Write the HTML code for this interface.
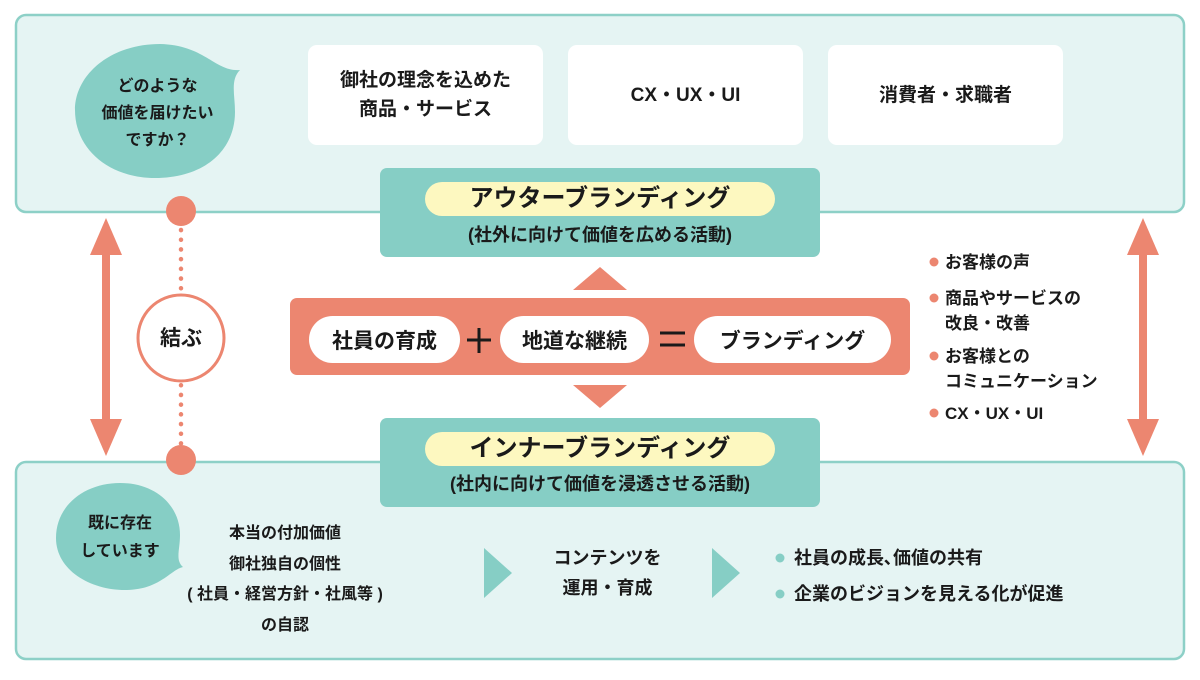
<!DOCTYPE html>
<html><head><meta charset="utf-8">
<style>
body{margin:0;width:1200px;height:680px;background:#fff;overflow:hidden;position:relative;font-family:"Liberation Sans","Noto Sans CJK JP",sans-serif;font-weight:bold;color:#1a1a1a}
.a{position:absolute;white-space:nowrap}
.c{text-align:center}
.wb{position:absolute;background:#fff;border-radius:9px;display:flex;align-items:center;justify-content:center;text-align:center;font-size:19px;line-height:29px}
.pill{position:absolute;background:#fff;border-radius:24px;display:flex;align-items:center;justify-content:center;font-size:21px}
</style></head><body>
<svg class="a" style="left:0;top:0" width="1200" height="680">
<rect x="16" y="15" width="1168" height="197" rx="10" fill="#e5f4f3" stroke="#8dd0c7" stroke-width="2.5"/>
<rect x="16" y="462" width="1168" height="197" rx="10" fill="#e5f4f3" stroke="#8dd0c7" stroke-width="2.5"/>
<path d="M240,70 C215,72 205,45 160,44 C110,44 75,75 75,110 C75,150 110,178 155,178 C205,178 235,150 235,112 C235,95 230,80 240,70Z" fill="#86cec5"/>
<path d="M183,567 C170,570 160,590 125,590 C90,590 56,570 56,538 C56,505 85,483 120,483 C155,483 180,505 180,535 C180,550 175,560 183,567Z" fill="#86cec5"/>
<line x1="106" y1="245" x2="106" y2="430" stroke="#ec8670" stroke-width="8"/>
<polygon points="106,218 90,255 122,255" fill="#ec8670"/>
<polygon points="106,456 90,419 122,419" fill="#ec8670"/>
<line x1="1143" y1="245" x2="1143" y2="430" stroke="#ec8670" stroke-width="8"/>
<polygon points="1143,218 1127,255 1159,255" fill="#ec8670"/>
<polygon points="1143,456 1127,419 1159,419" fill="#ec8670"/>
<line x1="181" y1="230" x2="181" y2="445" stroke="#ec8670" stroke-width="4.5" stroke-dasharray="0.1 9.6" stroke-linecap="round"/>
<circle cx="181" cy="211" r="15" fill="#ec8670"/>
<circle cx="181" cy="460" r="15" fill="#ec8670"/>
<circle cx="181" cy="338" r="43" fill="#fff" stroke="#ec8670" stroke-width="3"/>
<rect x="380" y="168" width="440" height="89" rx="7" fill="#86cec5"/>
<rect x="425" y="182" width="350" height="34" rx="17" fill="#fdf8c0"/>
<rect x="380" y="418" width="440" height="89" rx="7" fill="#86cec5"/>
<rect x="425" y="432" width="350" height="34" rx="17" fill="#fdf8c0"/>
<polygon points="600,267 573,290 627,290" fill="#ec8670"/>
<polygon points="600,408 573,385 627,385" fill="#ec8670"/>
<rect x="290" y="298" width="620" height="77" rx="7" fill="#ec8670"/>
<polygon points="484,548 512,573 484,598" fill="#86cec5"/>
<polygon points="712,548 740,573 712,598" fill="#86cec5"/>
<g fill="#ec8670"><circle cx="934" cy="262" r="4.5"/><circle cx="934" cy="298" r="4.5"/><circle cx="934" cy="356" r="4.5"/><circle cx="934" cy="413" r="4.5"/></g>
<g fill="#86cec5"><circle cx="780" cy="558" r="4.5"/><circle cx="780" cy="594" r="4.5"/></g>
<line x1="479" y1="328" x2="479" y2="353" stroke="#1a1a1a" stroke-width="3"/>
<line x1="467" y1="340" x2="491" y2="340" stroke="#1a1a1a" stroke-width="3"/>
<line x1="660" y1="333" x2="685" y2="333" stroke="#1a1a1a" stroke-width="3"/>
<line x1="660" y1="345" x2="685" y2="345" stroke="#1a1a1a" stroke-width="3"/>
</svg>

<div class="a c" style="left:80px;top:73px;width:155px;font-size:16px;line-height:27px">どのような<br>価値を届けたい<br>ですか？</div>
<div class="a c" style="left:60px;top:510px;width:120px;font-size:16px;line-height:28px">既に存在<br>しています</div>
<div class="a c" style="left:140px;top:322px;width:82px;font-size:21px">結ぶ</div>

<div class="wb" style="left:308px;top:45px;width:235px;height:100px">御社の理念を込めた<br>商品・サービス</div>
<div class="wb" style="left:568px;top:45px;width:235px;height:100px">CX・UX・UI</div>
<div class="wb" style="left:828px;top:45px;width:235px;height:100px">消費者・求職者</div>

<div class="a c" style="left:380px;top:183px;width:440px;font-size:24px;line-height:32px">アウターブランディング</div>
<div class="a c" style="left:380px;top:222px;width:440px;font-size:18px;line-height:26px">(社外に向けて価値を広める活動)</div>
<div class="a c" style="left:380px;top:433px;width:440px;font-size:24px;line-height:32px">インナーブランディング</div>
<div class="a c" style="left:380px;top:471px;width:440px;font-size:18px;line-height:26px">(社内に向けて価値を浸透させる活動)</div>

<div class="pill" style="left:309px;top:316px;width:151px;height:47px">社員の育成</div>
<div class="pill" style="left:500px;top:316px;width:149px;height:47px">地道な継続</div>
<div class="pill" style="left:694px;top:316px;width:197px;height:47px">ブランディング</div>

<div class="a" style="left:945px;top:250px;font-size:17px;line-height:25px">お客様の声</div>
<div class="a" style="left:945px;top:286px;font-size:17px;line-height:25px">商品やサービスの<br>改良・改善</div>
<div class="a" style="left:945px;top:344px;font-size:17px;line-height:25px">お客様との<br>コミュニケーション</div>
<div class="a" style="left:945px;top:401px;font-size:17px;line-height:25px">CX・UX・UI</div>

<div class="a c" style="left:175px;top:519px;width:220px;font-size:16px;line-height:30.5px">本当の付加価値<br>御社独自の個性<br>( 社員・経営方針・社風等 )<br>の自認</div>
<div class="a c" style="left:535px;top:543px;width:145px;font-size:18px;line-height:30px">コンテンツを<br>運用・育成</div>
<div class="a" style="left:794px;top:544px;font-size:18px;line-height:28px">社員の成長､価値の共有</div>
<div class="a" style="left:794px;top:580px;font-size:18px;line-height:28px">企業のビジョンを見える化が促進</div>
</body></html>
